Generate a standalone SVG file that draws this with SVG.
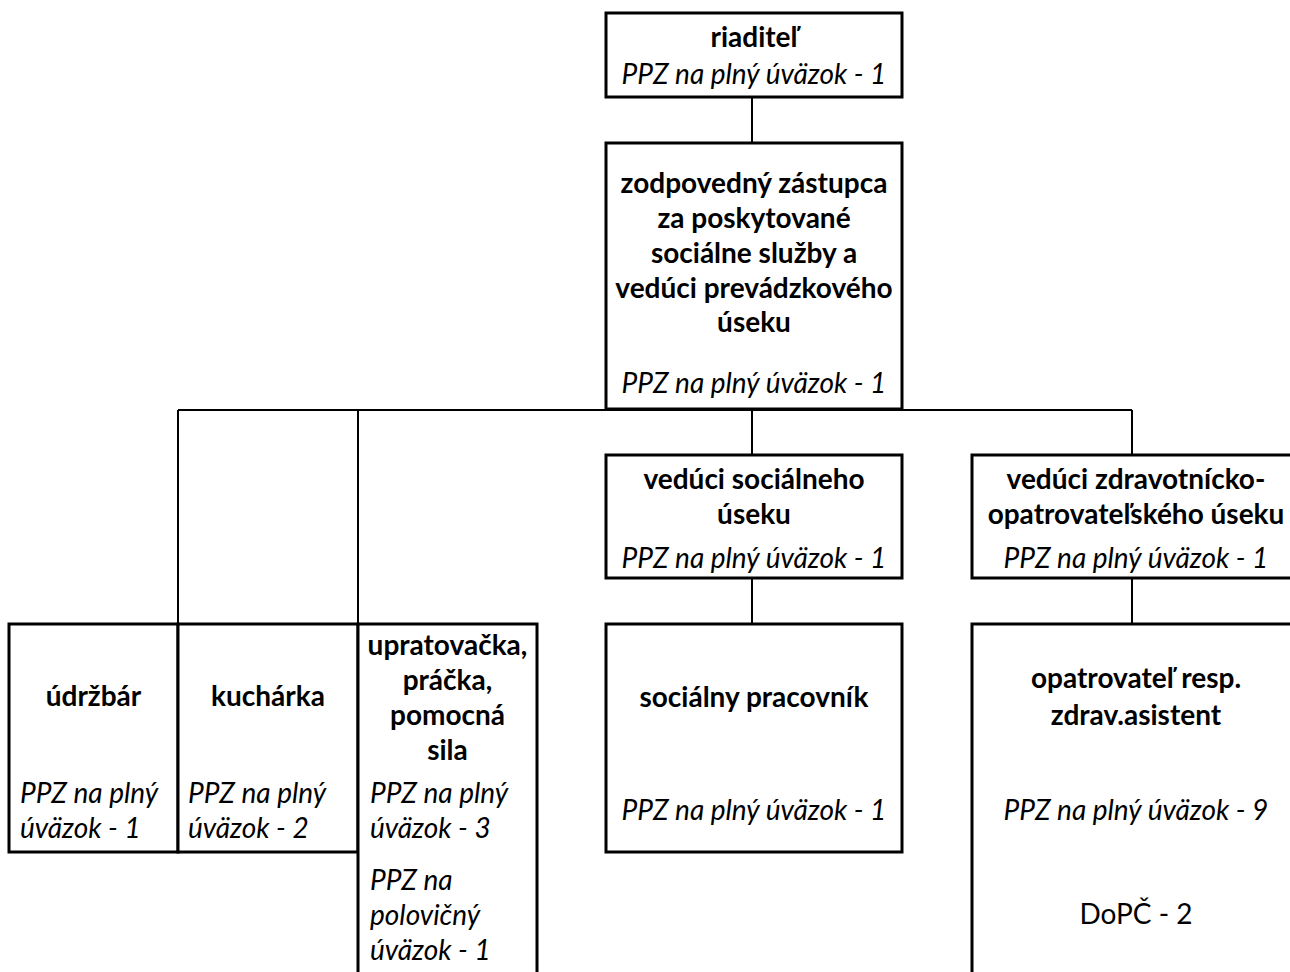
<svg xmlns="http://www.w3.org/2000/svg" width="1290" height="972" viewBox="0 0 1290 972">
<style>
.box{fill:#fff;stroke:#000;stroke-width:3}
.con{stroke:#000;stroke-width:2;fill:none}
text{font-family:Lato,"Open Sans",sans-serif;font-size:28px;fill:#000}
.b{font-weight:bold;text-anchor:middle}
.i{font-style:italic}
.c{text-anchor:middle}
</style>
<rect width="1290" height="972" fill="#fff"/>
<g id="connectors">
<path class="con" d="M752 97V143 M178 410H1132 M178 410V624 M358 410V624 M752 409V455 M1132 410V455 M752 578V624 M1132 578V624"/>
</g>
<g id="riaditel">
<rect class="box" x="606" y="13" width="296" height="84"/>
<text class="b" x="754" y="47">riaditeľ</text>
<text class="i c" x="754" y="84">PPZ na plný úväzok - 1</text>
</g>
<g id="zastupca">
<rect class="box" x="606" y="143" width="296" height="266"/>
<text class="b" x="754" y="193">zodpovedný zástupca</text>
<text class="b" x="754" y="228">za poskytované</text>
<text class="b" x="754" y="263">sociálne služby a</text>
<text class="b" x="754" y="298">vedúci prevádzkového</text>
<text class="b" x="754" y="332">úseku</text>
<text class="i c" x="754" y="393">PPZ na plný úväzok - 1</text>
</g>
<g id="veduci-soc">
<rect class="box" x="606" y="455" width="296" height="123"/>
<text class="b" x="754" y="489">vedúci sociálneho</text>
<text class="b" x="754" y="524">úseku</text>
<text class="i c" x="754" y="568">PPZ na plný úväzok - 1</text>
</g>
<g id="veduci-zdrav">
<rect class="box" x="972" y="455" width="340" height="123"/>
<text class="b" x="1136" y="489">vedúci zdravotnícko-</text>
<text class="b" x="1136" y="524">opatrovateľského úseku</text>
<text class="i c" x="1136" y="568">PPZ na plný úväzok - 1</text>
</g>
<g id="udrzbar">
<rect class="box" x="9" y="624" width="169" height="228"/>
<text class="b" x="93.5" y="706">údržbár</text>
<text class="i" x="20" y="803">PPZ na plný</text>
<text class="i" x="20" y="838">úväzok - 1</text>
</g>
<g id="kucharka">
<rect class="box" x="178" y="624" width="180" height="228"/>
<text class="b" x="268" y="706">kuchárka</text>
<text class="i" x="188" y="803">PPZ na plný</text>
<text class="i" x="188" y="838">úväzok - 2</text>
</g>
<g id="upratovacka">
<rect class="box" x="358" y="624" width="179" height="370"/>
<text class="b" x="447.5" y="655">upratovačka,</text>
<text class="b" x="447.5" y="690">práčka,</text>
<text class="b" x="447.5" y="725">pomocná</text>
<text class="b" x="447.5" y="760">sila</text>
<text class="i" x="370" y="803">PPZ na plný</text>
<text class="i" x="370" y="838">úväzok - 3</text>
<text class="i" x="370" y="890">PPZ na</text>
<text class="i" x="370" y="925">polovičný</text>
<text class="i" x="370" y="960">úväzok - 1</text>
</g>
<g id="socialny-pracovnik">
<rect class="box" x="606" y="624" width="296" height="228"/>
<text class="b" x="754" y="707">sociálny pracovník</text>
<text class="i c" x="754" y="820">PPZ na plný úväzok - 1</text>
</g>
<g id="opatrovatel">
<rect class="box" x="972" y="624" width="340" height="370"/>
<text class="b" x="1136" y="688">opatrovateľ resp.</text>
<text class="b" x="1136" y="725">zdrav.asistent</text>
<text class="i c" x="1136" y="820">PPZ na plný úväzok - 9</text>
<text class="c" x="1136" y="924">DoPČ - 2</text>
</g>
</svg>
